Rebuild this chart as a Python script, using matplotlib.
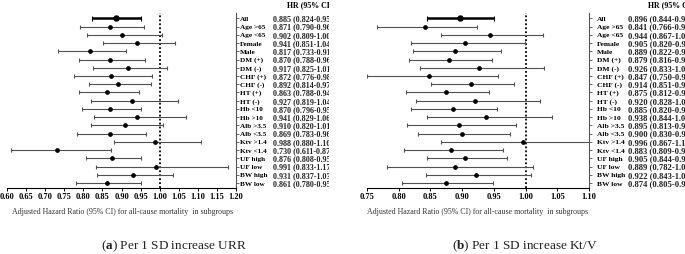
import numpy as np
import matplotlib
matplotlib.use("Agg")
import matplotlib.pyplot as plt
import matplotlib.transforms as mtransforms
from matplotlib.patches import Rectangle

plt.rcParams["font.family"] = "Liberation Serif"
plt.rcParams["mathtext.fontset"] = "custom"
plt.rcParams["mathtext.rm"] = "Liberation Serif"
plt.rcParams["mathtext.bf"] = "Liberation Serif:bold"

groups = ["All", "Age >65", "Age <65", "Female", "Male", "DM (+)", "DM (-)",
          "CHF (+)", "CHF (-)", "HT (+)", "HT (-)", "Hb <10", "Hb >10",
          "Alb >3.5", "Alb <3.5", "Ktv >1.4", "Ktv <1.4", "UF high", "UF low",
          "BW high", "BW low"]

# panel (a): per 1 SD increase URR
urr_hr = [0.885, 0.871, 0.902, 0.941, 0.817, 0.870, 0.917, 0.872, 0.892, 0.863, 0.927,
          0.870, 0.941, 0.910, 0.869, 0.988, 0.730, 0.876, 0.991, 0.931, 0.861]
urr_lo = [0.824, 0.790, 0.809, 0.851, 0.733, 0.788, 0.825, 0.776, 0.814, 0.788, 0.819,
          0.796, 0.829, 0.820, 0.783, 0.880, 0.611, 0.808, 0.833, 0.837, 0.780]
urr_hi = [0.951, 0.960, 1.006, 1.040, 0.911, 0.961, 1.019, 0.980, 0.977, 0.945, 1.049,
          0.951, 1.068, 1.010, 0.964, 1.109, 0.872, 0.950, 1.179, 1.036, 0.950]

# panel (b): per 1 SD increase Kt/V
ktv_hr = [0.896, 0.841, 0.944, 0.905, 0.889, 0.879, 0.926, 0.847, 0.914, 0.875, 0.920,
          0.885, 0.938, 0.895, 0.900, 0.996, 0.883, 0.905, 0.889, 0.922, 0.874]
ktv_lo = [0.844, 0.766, 0.867, 0.820, 0.822, 0.816, 0.833, 0.750, 0.851, 0.812, 0.828,
          0.820, 0.844, 0.813, 0.830, 0.867, 0.809, 0.844, 0.782, 0.843, 0.805]
ktv_hi = [0.951, 0.923, 1.028, 0.999, 0.961, 0.947, 1.029, 0.957, 0.982, 0.943, 1.022,
          0.955, 1.042, 0.985, 0.976, 1.144, 0.964, 0.970, 1.011, 1.008, 0.949]

W, H = 685, 255
fig = plt.figure(figsize=(W / 100, H / 100), dpi=100)

panels = [
    dict(hr=urr_hr, lo=urr_lo, hi=urr_hi, px=(7, 236), xlim=(0.60, 1.20),
         ticks=np.arange(0.60, 1.201, 0.05), lab_x=240, val_x=273, head_x=287,
         lab_fs=5.2, val_fs=5.8, sub_x=12, clip=329, cap="a",
         title="Per 1 SD increase URR", cap_x=174),
    dict(hr=ktv_hr, lo=ktv_lo, hi=ktv_hi, px=(367, 589), xlim=(0.75, 1.10),
         ticks=np.arange(0.75, 1.101, 0.05), lab_x=597, val_x=628, head_x=648,
         lab_fs=5.4, val_fs=6.2, sub_x=367, clip=685, cap="b",
         title="Per 1 SD increase Kt/V", cap_x=525),
]

top, bot = 14, 189
for p in panels:
    x0, x1 = p["px"]
    ax = fig.add_axes([x0 / W, 1 - bot / H, (x1 - x0) / W, (bot - top) / H])
    y = np.arange(len(groups))
    hr, lo, hi = np.array(p["hr"]), np.array(p["lo"]), np.array(p["hi"])
    for i in y:
        main = i == 0
        ax.errorbar(hr[i], i, xerr=[[hr[i] - lo[i]], [hi[i] - hr[i]]], fmt="o",
                    color="black", ecolor="black" if main else "#505050",
                    elinewidth=1.8 if main else 0.8, capsize=1.8 if main else 1.4,
                    capthick=0.8, markersize=3.6 if main else 2.4, zorder=3)
    ax.axvline(1.0, color="black", ls=(0, (1, 1.2)), lw=1.3, zorder=2)
    ax.set_xlim(*p["xlim"])
    ax.set_ylim(len(groups) - 0.4, -0.65)
    ax.set_xticks(p["ticks"])
    ax.set_xticklabels([f"{t:.2f}" for t in p["ticks"]], fontsize=6, fontweight="bold")
    ax.tick_params(axis="x", length=2.2, width=0.7, pad=1)
    ax.spines["left"].set_visible(False)
    ax.spines["top"].set_visible(False)
    ax.spines["bottom"].set_linewidth(0.8)
    ax.spines["right"].set_linewidth(0.8)
    ax.spines["right"].set_color("#555555")
    ax.yaxis.tick_right()
    ax.set_yticks(y)
    ax.set_yticklabels([])
    ax.tick_params(axis="y", length=2.5, width=0.6, colors="#555555")

    # the column of estimates runs past the panel edge and is cut there
    clip = Rectangle((0, 0), p["clip"] / W, 1, transform=fig.transFigure)
    tr = mtransforms.blended_transform_factory(fig.transFigure, ax.transData)
    for i, g in enumerate(groups):
        ax.text(p["lab_x"] / W, i, g, transform=tr, fontsize=p["lab_fs"],
                fontweight="bold", ha="left", va="center", clip_on=False)
        t = ax.text(p["val_x"] / W, i, f"{hr[i]:.3f} ({lo[i]:.3f}-{hi[i]:.3f})",
                    transform=tr, fontsize=p["val_fs"], fontweight="bold", ha="left",
                    va="center", color="#222222", clip_on=True)
        t.set_clip_path(clip)
    t = fig.text(p["head_x"] / W, 1 - 5 / H, "HR (95% CI)", fontsize=5.7,
                 fontweight="bold", ha="left", va="center", clip_on=True)
    t.set_clip_path(clip)
    fig.text(p["sub_x"] / W, 1 - 212 / H,
             "Adjusted Hazard Ratio (95% CI) for all-cause mortality  in subgroups",
             fontsize=5.7, ha="left", va="center", color="#333333")
    fig.text(p["cap_x"] / W, 1 - 246 / H,
             "(" + r"$\mathbf{" + p["cap"] + "}$" + ") " + p["title"],
             fontsize=9.5, ha="center", va="center", color="#222222")

fig.savefig("out.png", dpi=100)
